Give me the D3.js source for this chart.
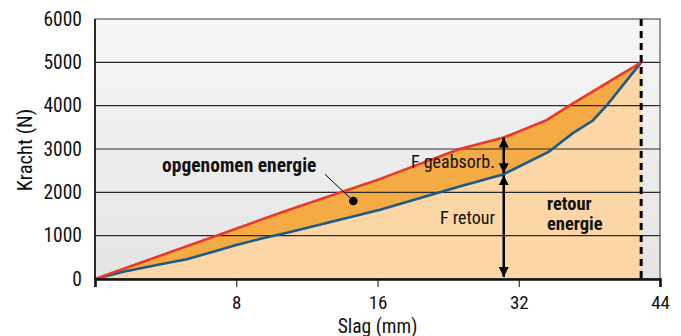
<!DOCTYPE html>
<html>
<head>
<meta charset="utf-8">
<script src="https://cdn.jsdelivr.net/npm/d3@7"></script>
<style>
  html, body { margin: 0; padding: 0; background: #ffffff; }
  svg { display: block; }
  text { font-family: "Liberation Sans Narrow", "Arial Narrow", "Roboto Condensed", Roboto, sans-serif; fill: #111; }
</style>
</head>
<body>
<svg id="chart" width="681" height="336"></svg>
<script>
// ---- data ----
const xBreaks = [0, 8, 16, 32, 44];          // axis break values (mm), equally spaced on the axis
const xTickValues = [8, 16, 32, 44];
const yTickValues = [0, 1000, 2000, 3000, 4000, 5000, 6000];

// loading curve (opgenomen) – red
const loadX = [0, 11, 16.3, 25.3, 30.3, 34.4, 36.4, 42.4];
const loadY = [0, 1600, 2310, 3000, 3265, 3670, 4020, 5000];

// return curve (retour) – blue
const returnX = [0, 1.6, 3.5, 5.2, 6.7, 8.0, 9.5, 11.0, 16.3, 25.3, 30.3, 34.5, 36.6, 38.3, 39.4, 42.4];
const returnY = [0, 168, 323, 455, 631, 785, 940, 1079, 1600, 2133, 2420, 2927, 3367, 3658, 3981, 5000];

const maxStroke = 42.4;      // dashed vertical line (mm)
const arrowIndexLoad = 4;    // index in load series where the force arrows sit
const arrowIndexReturn = 10; // index in return series at the same stroke

// ---- layout ----
const margin = { left: 95, top: 19, right: 21, bottom: 57 };
const W = 681, H = 336;
const w = W - margin.left - margin.right;
const h = H - margin.top - margin.bottom;

const svg = d3.select("#chart");
const defs = svg.append("defs");
const grad = defs.append("linearGradient").attr("id", "bg").attr("x1", 0).attr("y1", 0).attr("x2", 0).attr("y2", 1);
grad.append("stop").attr("offset", "0%").attr("stop-color", "#f6f6f6");
grad.append("stop").attr("offset", "100%").attr("stop-color", "#e4e4e4");

defs.append("marker")
  .attr("id", "head")
  .attr("viewBox", "0 0 10 12")
  .attr("refX", 10).attr("refY", 6)
  .attr("markerWidth", 10).attr("markerHeight", 12)
  .attr("markerUnits", "userSpaceOnUse")
  .attr("orient", "auto-start-reverse")
  .append("path").attr("d", "M0,1 L10,6 L0,11 Z").attr("fill", "#000");

const g = svg.append("g").attr("transform", `translate(${margin.left},${margin.top})`);

const x = d3.scaleLinear().domain(xBreaks).range(xBreaks.map((d, i) => i * w / (xBreaks.length - 1)));
const y = d3.scaleLinear().domain([0, 6000]).range([h, 0]);

const load = loadX.map((d, i) => [d, loadY[i]]);
const ret = returnX.map((d, i) => [d, returnY[i]]);

// background
g.append("rect").attr("width", w).attr("height", h).attr("fill", "url(#bg)");

// fills
const area = d3.area().x(d => x(d[0])).y0(h).y1(d => y(d[1]));
g.append("path").datum(load).attr("d", area).attr("fill", "#f5ab44");
g.append("path").datum(ret).attr("d", area).attr("fill", "#fcd6a4");

// gridlines
g.append("g").selectAll("line").data(yTickValues.filter(v => v > 0 && v < 6000)).join("line")
  .attr("x1", 0).attr("x2", w)
  .attr("y1", d => y(d)).attr("y2", d => y(d))
  .attr("stroke", "#2a2a2a").attr("stroke-width", 1.2);

// lines
const line = d3.line().x(d => x(d[0])).y(d => y(d[1]));
g.append("path").datum(ret).attr("d", line).attr("fill", "none").attr("stroke", "#1a5a8c").attr("stroke-width", 2.6).attr("stroke-linejoin", "round");
g.append("path").datum(load).attr("d", line).attr("fill", "none").attr("stroke", "#e8392b").attr("stroke-width", 2.6).attr("stroke-linejoin", "round");

// dashed vertical
g.append("line").attr("x1", x(maxStroke)).attr("x2", x(maxStroke)).attr("y1", 0).attr("y2", h)
  .attr("stroke", "#000").attr("stroke-width", 3).attr("stroke-dasharray", "7,5");

// border
g.append("rect").attr("width", w).attr("height", h).attr("fill", "none").attr("stroke", "#333").attr("stroke-width", 1);
g.append("line").attr("x1", 0).attr("x2", 0).attr("y1", 0).attr("y2", h).attr("stroke", "#111").attr("stroke-width", 1.6);

// arrows
const ax = x(load[arrowIndexLoad][0]);
g.append("line").attr("x1", ax).attr("x2", ax)
  .attr("y1", y(load[arrowIndexLoad][1])).attr("y2", y(ret[arrowIndexReturn][1]) - 1)
  .attr("stroke", "#000").attr("stroke-width", 2.5)
  .attr("marker-start", "url(#head)").attr("marker-end", "url(#head)");
g.append("line").attr("x1", ax).attr("x2", ax)
  .attr("y1", y(ret[arrowIndexReturn][1]) + 1).attr("y2", y(0) - 2)
  .attr("stroke", "#000").attr("stroke-width", 2.5)
  .attr("marker-start", "url(#head)").attr("marker-end", "url(#head)");

// x axis
const xAxis = g.append("g").attr("transform", `translate(0,${h})`)
  .call(d3.axisBottom(x).tickValues(xTickValues).tickFormat(d3.format("d")).tickSizeOuter(0).tickSize(8).tickPadding(9));
xAxis.select(".domain").attr("stroke", "#111").attr("stroke-width", 2.6);
xAxis.selectAll(".tick line").attr("stroke", "#111").attr("stroke-width", 1)
  .attr("opacity", d => d === 44 ? 0 : 1);
xAxis.selectAll("text").attr("font-size", 19).attr("font-family", null).attr("fill", "#111");

// y axis labels
const yAxis = g.append("g")
  .call(d3.axisLeft(y).tickValues(yTickValues).tickFormat(d3.format("d")).tickSize(0).tickPadding(13));
yAxis.select(".domain").remove();
yAxis.selectAll("text").attr("font-size", 19.5).attr("font-family", null).attr("fill", "#111");

// axis titles
svg.append("text").attr("x", margin.left + x(16)).attr("y", 332.5)
  .attr("text-anchor", "middle").attr("font-size", 19.5).text("Slag (mm)");
svg.append("text").attr("transform", `translate(32,${margin.top + h / 2 + 1}) rotate(-90)`)
  .attr("text-anchor", "middle").attr("font-size", 20.5).text("Kracht (N)");

// annotations
g.append("text").attr("x", x(3.8)).attr("y", y(2470)).attr("font-size", 19.5).attr("font-weight", "bold")
  .text("opgenomen energie");
g.append("line").attr("x1", x(13.03)).attr("y1", y(2416)).attr("x2", x(14.63)).attr("y2", y(1800))
  .attr("stroke", "#000").attr("stroke-width", 1);
g.append("circle").attr("cx", x(14.63)).attr("cy", y(1800)).attr("r", 4.3).attr("fill", "#000");

g.append("text").attr("x", x(29.3)).attr("y", y(2555)).attr("text-anchor", "end").attr("font-size", 18)
  .text("F geabsorb.");
g.append("text").attr("x", x(29.3)).attr("y", y(1269)).attr("text-anchor", "end").attr("font-size", 18)
  .text("F retour");
g.append("text").attr("x", x(34.4)).attr("y", y(1595)).attr("font-size", 18.5).attr("font-weight", "bold")
  .text("retour");
g.append("text").attr("x", x(34.4)).attr("y", y(1125)).attr("font-size", 18.5).attr("font-weight", "bold")
  .text("energie");
</script>
</body>
</html>
